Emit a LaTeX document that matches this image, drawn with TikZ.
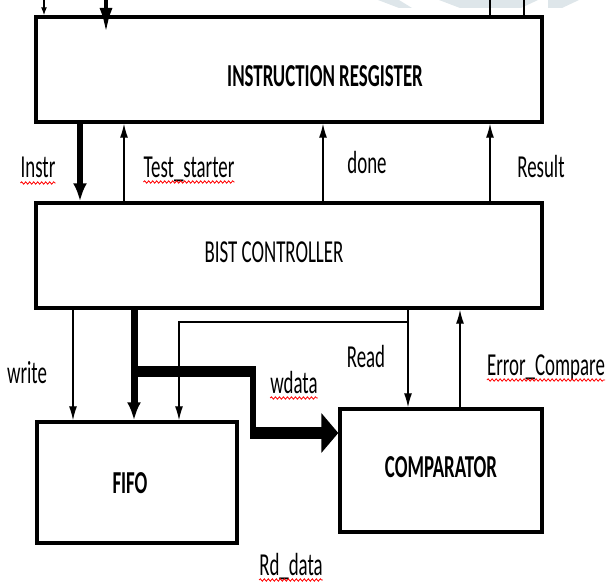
\documentclass[tikz,border=0pt]{standalone}
\usepackage{fontspec}
\newfontfamily\diafont{Carlito}[FakeStretch=0.59]
\usetikzlibrary{arrows.meta,decorations.pathmorphing}
\definecolor{wmgrey}{RGB}{222,230,234}

\begin{document}
\begin{tikzpicture}[x=1pt, y=-1pt,
  every node/.style={font=\diafont\fontsize{32}{34}\selectfont, inner sep=0pt},
  blk/.style  ={draw, line width=3.4pt},
  title/.style={font=\diafont\bfseries\fontsize{32}{34}\selectfont, anchor=base},
  lbl/.style  ={anchor=base},
  arr/.style  ={-{Latex[length=14pt,width=8pt]}, line width=1.3pt},
  arrthick/.style={-{Latex[length=18pt,width=14pt]}, line width=6pt},
  spell/.style={draw=red, line width=0.8pt, decorate,
                decoration={snake, amplitude=1.2pt, segment length=4pt}},
  wmark/.style={fill=wmgrey, draw=none}
]
\useasboundingbox (0,0) rectangle (606,586);

%% ---- Watermark --------------------------------------------------
\fill[wmark] (378,0) -- (399,0) -- (412,8) -- (399,8) -- cycle;
\fill[wmark] (439,0) -- (538,0) -- (521,8) -- (460,8) -- cycle;
\fill[wmark] (548,0) -- (579,0) -- (562,8) -- (548,8) -- cycle;

%% ---- Blocks -----------------------------------------------------
\node[blk, minimum width=506, minimum height=105] (ir)   at (289,69.5)  {};
\node[blk, minimum width=506, minimum height=105] (bist) at (289,255.5) {};
\node[blk, minimum width=200, minimum height=121] (fifo) at (137,482.5) {};
\node[blk, minimum width=202, minimum height=123] (comp) at (441,470.5) {};

\node[title] (irtxt)   at (325,87)  {INSTRUCTION RESGISTER};
\node[lbl]   (bisttxt) at (274,262) {BIST CONTROLLER};
\node[title] (fifotxt) at (130,493) {FIFO};
\node[title] (comptxt) at (441,477) {COMPARATOR};

%% ---- Signal columns ---------------------------------------------
\coordinate (xinA)   at (44,0);
\coordinate (xinB)   at (106,0);
\coordinate (xoutA)  at (490,0);
\coordinate (xoutB)  at (524,0);
\coordinate (xinstr) at (80,0);
\coordinate (xtest)  at (124,0);
\coordinate (xdone)  at (323,0);
\coordinate (xres)   at (490,0);
\coordinate (xwrite) at (73,0);
\coordinate (xbus)   at (134,0);
\coordinate (xrdff)  at (179,0);
\coordinate (xbend)  at (253,0);
\coordinate (xread)  at (408,0);
\coordinate (xerr)   at (460,0);
\coordinate (yrd)    at (0,322);
\coordinate (ywd)    at (0,371);
\coordinate (yin)    at (0,433);
\coordinate (tipB)   at (106,33);

%% ---- Inputs cut at the top --------------------------------------
\draw[-{Latex[length=8pt,width=6pt]}, line width=1.3pt] (xinA) -- (ir.north -| xinA);
\draw[-{Latex[length=25pt,width=13pt]}, line width=4pt] ([yshift=10pt]xinB) -- (tipB);
\draw[line width=1.3pt] (xoutA) -- (ir.north -| xoutA);
\draw[line width=1.3pt] (xoutB) -- (ir.north -| xoutB);

%% ---- Register <-> controller -------------------------------------
\draw[arrthick] (ir.south -| xinstr) -- (bist.north -| xinstr);
\draw[arr] (bist.north -| xtest) -- (ir.south -| xtest);
\draw[arr] (bist.north -| xdone) -- (ir.south -| xdone);
\draw[arr] (bist.north -| xres)  -- (ir.south -| xres);

\node[lbl] (instr) at (38,178)  {Instr};
\node[lbl] (test)  at (189,177) {Test\_starter};
\node[lbl] (done)  at (367,173) {done};
\node[lbl] (res)   at (541,177) {Result};

%% ---- Controller -> FIFO / comparator -----------------------------
\draw[arr] (bist.south -| xwrite) -- (fifo.north -| xwrite);
\draw[arrthick, line width=7pt] (bist.south -| xbus) -- (fifo.north -| xbus);
\draw[line width=11pt] (xbus |- ywd) -- ([xshift=3pt]xbend |- ywd);
\draw[line width=6pt] (xbend |- ywd) -- (xbend |- yin);
\draw[-{Triangle[length=17pt,width=39pt]}, line width=12pt]
     ([xshift=-3pt]xbend |- yin) -- (comp.west |- yin);
\draw[arr] (bist.south -| xread) -- (comp.north -| xread);
\draw[arr] (xread |- yrd) -| (fifo.north -| xrdff);
\draw[arr] (comp.north -| xerr) -- (bist.south -| xerr);

\node[lbl] (write) at (27,383)  {write};
\node[lbl] (read)  at (366,367) {Read};
\node[lbl] (err)   at (546,375) {Error\_Compare};
\node[lbl] (wdata) at (294,393) {wdata};
\node[lbl] (rdd)   at (291,575) {Rd\_data};

%% ---- Spelling marks ----------------------------------------------
\draw[spell] ([yshift=-5pt]instr.base west) -- ([yshift=-5pt]instr.base east);
\draw[spell] ([yshift=-5pt]test.base west)  -- ([yshift=-5pt]test.base east);
\draw[spell] ([yshift=-5pt]err.base west)   -- ([yshift=-5pt]err.base east);
\draw[spell] ([yshift=-5pt]wdata.base west) -- ([yshift=-5pt]wdata.base east);
\draw[spell] ([yshift=-5pt]rdd.base west)   -- ([yshift=-5pt]rdd.base east);

\end{tikzpicture}
\end{document}
